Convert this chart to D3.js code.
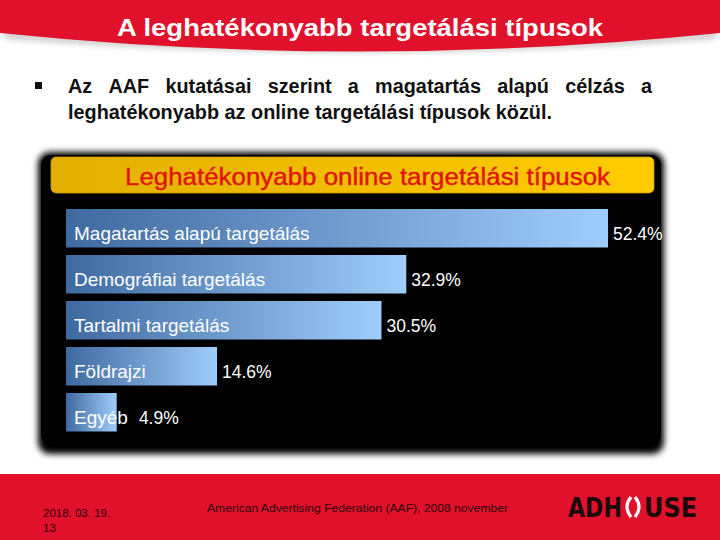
<!DOCTYPE html>
<html><head><meta charset="utf-8">
<script src="https://cdn.jsdelivr.net/npm/d3@7"></script>
<style>html,body{margin:0;padding:0;background:#fff;}svg{display:block;}</style>
</head><body>
<script>
const categories = ["Magatartás alapú targetálás","Demográfiai targetálás","Tartalmi targetálás","Földrajzi","Egyéb"];
const values = [52.4, 32.9, 30.5, 14.6, 4.9];
const valueLabels = ["52.4%","32.9%","30.5%","14.6%","4.9%"];
const title = "A leghatékonyabb targetálási típusok";
const bulletLines = ["Az AAF kutatásai szerint a magatartás alapú célzás a","leghatékonyabb az online targetálási típusok közül."];
const chartTitle = "Leghatékonyabb online targetálási típusok";
const footerDate = ["2018. 03. 19.","13"];
const footerSource = "American Advertising Federation (AAF),  2008 november";
const logoParts = ["ADH","USE"];

const W = 720, H = 540;
const FONT = "Liberation Sans, Arial, sans-serif";
const svg = d3.select("body").append("svg").attr("width", W).attr("height", H);
const defs = svg.append("defs");
const RED = "#e1112b";

const bg = defs.append("linearGradient").attr("id","barGrad");
bg.append("stop").attr("offset","0%").attr("stop-color","#3f6aa0");
bg.append("stop").attr("offset","100%").attr("stop-color","#9fcdfb");
const yg = defs.append("linearGradient").attr("id","yelGrad");
yg.append("stop").attr("offset","0%").attr("stop-color","#e2b000");
yg.append("stop").attr("offset","100%").attr("stop-color","#ffcc00");
const f = defs.append("filter").attr("id","soft").attr("x","-10%").attr("y","-10%").attr("width","120%").attr("height","130%");
f.append("feGaussianBlur").attr("stdDeviation",3);
const f2 = defs.append("filter").attr("id","shadow").attr("x","-10%").attr("y","-50%").attr("width","120%").attr("height","200%");
f2.append("feGaussianBlur").attr("stdDeviation",2.5);

// Title banner
svg.append("path").attr("d","M0,4 Q0,38 8,40 Q360,66 712,40 Q720,38 720,4 Z").attr("fill","#bbb").attr("filter","url(#shadow)").attr("opacity",0.6);
svg.append("path").attr("d","M0,0 H720 V33 Q360,70 0,33 Z").attr("fill",RED);
svg.append("text").attr("x",117).attr("y",36)
  .attr("font-family",FONT).attr("font-weight","bold")
  .attr("font-size",24).attr("fill","#fff")
  .attr("textLength",486).attr("lengthAdjust","spacingAndGlyphs").text(title);

// Bullet text
svg.append("rect").attr("x",35).attr("y",82).attr("width",7).attr("height",7).attr("fill","#111");
const BFS = 19.5;
// line 2 (natural width, scaled to 484)
const l2 = svg.append("text").attr("x",68).attr("y",119)
  .attr("font-family",FONT).attr("font-weight","bold")
  .attr("font-size",BFS).attr("fill","#111").text(bulletLines[1]);
const nat2 = l2.node().getComputedTextLength();
const sx = 484 / nat2;
l2.attr("textLength",484).attr("lengthAdjust","spacingAndGlyphs");
// line 1 justified by word spacing between x=68 and x=652
const words = bulletLines[0].split(" ");
const l1 = svg.append("text").attr("y",93)
  .attr("font-family",FONT).attr("font-weight","bold")
  .attr("font-size",BFS).attr("fill","#111");
const spans = words.map(w => l1.append("tspan").text(w));
const ww = spans.map(s => s.node().getComputedTextLength() * sx);
const gap = (584 - d3.sum(ww)) / (words.length - 1);
let cx = 68;
spans.forEach((s,i) => { s.attr("x", cx).attr("textLength", ww[i]).attr("lengthAdjust","spacingAndGlyphs"); cx += ww[i] + gap; });

// Black panel
svg.append("rect").attr("x",38).attr("y",152).attr("width",626).attr("height",302).attr("rx",12)
  .attr("fill","#000").attr("filter","url(#soft)");
svg.append("rect").attr("x",41).attr("y",155).attr("width",620).attr("height",290).attr("rx",10).attr("fill","#000");

// Yellow header
svg.append("rect").attr("x",51).attr("y",157).attr("width",603).attr("height",36).attr("rx",5)
  .attr("fill","url(#yelGrad)").attr("stroke","#c99a00").attr("stroke-width",0.8);
svg.append("text").attr("x",125).attr("y",185)
  .attr("font-family",FONT)
  .attr("font-size",23).attr("fill","#e0140c").attr("stroke","#e0140c").attr("stroke-width",0.4)
  .attr("textLength",485).attr("lengthAdjust","spacingAndGlyphs").text(chartTitle);

// Bars
const x = d3.scaleLinear().domain([0, d3.max(values)]).range([66, 608]);
const y = d3.scaleBand().domain(categories).range([201.5, 439]).paddingInner(0.163).paddingOuter(0.163);
const data = categories.map((c,i)=>({c, v:values[i], l:valueLabels[i]}));

const g = svg.append("g");
g.selectAll("rect.bar").data(data).join("rect").attr("class","bar")
  .attr("x", x(0)).attr("y", d=>y(d.c)).attr("width", d=>x(d.v)-x(0)).attr("height", y.bandwidth())
  .attr("fill","url(#barGrad)");

const catText = g.selectAll("text.cat").data(data).join("text").attr("class","cat")
  .attr("x", 74).attr("y", d=>y(d.c)+y.bandwidth()/2+5).attr("dy","0.35em")
  .attr("font-family",FONT).attr("font-size",19).attr("fill","#fff")
  .text(d=>d.c);
const widths = [];
catText.each(function(){ widths.push(this.getComputedTextLength()); });

g.selectAll("text.val").data(data).join("text").attr("class","val")
  .attr("x", (d,i)=>Math.max(x(d.v)+5, 74+widths[i]+11))
  .attr("y", d=>y(d.c)+y.bandwidth()/2+6).attr("dy","0.35em")
  .attr("font-family",FONT).attr("font-size",17.5).attr("fill","#fff")
  .text(d=>d.l);

// Footer
svg.append("rect").attr("x",0).attr("y",474).attr("width",W).attr("height",66).attr("fill",RED);
svg.append("text").attr("x",43).attr("y",517).attr("font-family",FONT)
  .attr("font-size",11.5).attr("fill","#2a0508").text(footerDate[0]);
svg.append("text").attr("x",43).attr("y",532).attr("font-family",FONT)
  .attr("font-size",11.5).attr("fill","#2a0508").text(footerDate[1]);
svg.append("text").attr("x",207).attr("y",512).attr("font-family",FONT)
  .attr("font-size",11).attr("fill","#2a0508").attr("textLength",301).attr("lengthAdjust","spacingAndGlyphs").text(footerSource);

// Logo: ADH ( ) USE — the O drawn as two white arcs
const logoX = [568, 644], logoW = [54, 53];
logoParts.forEach((t,i)=>{
  svg.append("text").attr("x",logoX[i]).attr("y",517)
    .attr("font-family","Liberation Sans Narrow, DejaVu Sans Condensed, Arial, sans-serif").attr("font-weight","bold")
    .attr("font-size",27).attr("fill","#1a0a0a")
    .attr("textLength",logoW[i]).attr("lengthAdjust","spacingAndGlyphs").text(t);
});
svg.append("path").attr("d","M631,497 Q623,507 631,517").attr("fill","none").attr("stroke","#fff").attr("stroke-width",3.2);
svg.append("path").attr("d","M635,497 Q643,507 635,517").attr("fill","none").attr("stroke","#fff").attr("stroke-width",3.2);
</script>
</body></html>
